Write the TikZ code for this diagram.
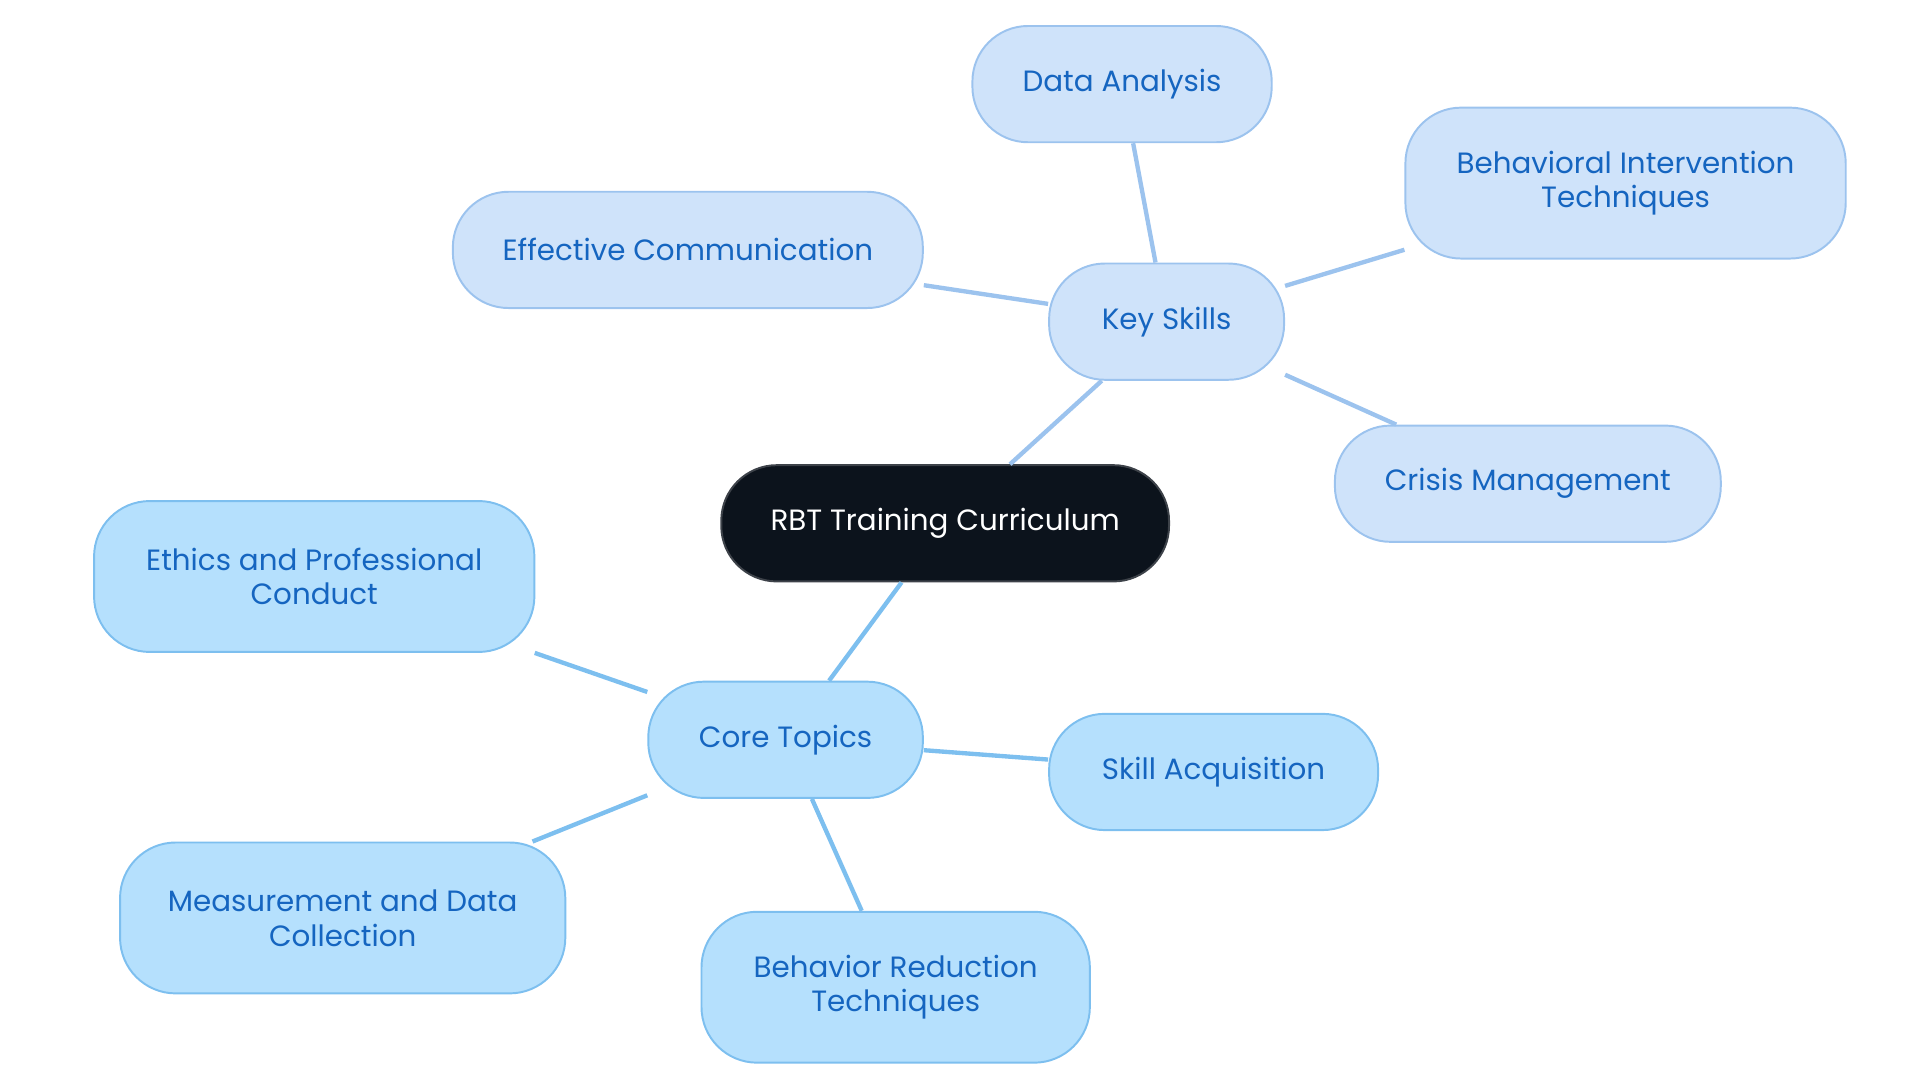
\documentclass[tikz,border=0pt]{standalone}
\usepackage{fontspec}
\setmainfont{Poppins}
\definecolor{rootfill}{HTML}{0C131C}
\definecolor{keyfill}{HTML}{CFE3FA}
\definecolor{keyline}{HTML}{9CC3EE}
\definecolor{corefill}{HTML}{B5E0FD}
\definecolor{coreline}{HTML}{7DBFEF}
\definecolor{labeltext}{HTML}{1565C0}
\tikzset{
  mapnode/.style = {align=center, rounded corners=0.9cm, inner sep=0pt, font=\fontsize{13.5}{16}\selectfont, text=labeltext, line width=0.9pt},
  rootnode/.style = {mapnode, fill=rootfill, draw=rootfill!80!white, text=white},
  keynode/.style = {mapnode, fill=keyfill, draw=keyline},
  corenode/.style = {mapnode, fill=corefill, draw=coreline},
  keylink/.style = {draw=keyline, line width=2pt},
  corelink/.style = {draw=coreline, line width=2pt},
}
\begin{document}
\begin{tikzpicture}[x=0.02cm, y=-0.02cm]
\useasboundingbox (0,0) rectangle (1552,875);
\node [rootnode, minimum width=7.24cm, minimum height=1.88cm] (root) at (764,423) {RBT Training Curriculum};
% key skills branch
\node [keynode, minimum width=3.8cm, minimum height=1.88cm] (skills) at (943,260) {Key Skills};
\node [keynode, minimum width=4.84cm, minimum height=1.88cm] (data) at (907,68) {Data Analysis};
\node [keynode, minimum width=7.12cm, minimum height=2.44cm] (interv) at (1314,148) {Behavioral Intervention\\Techniques};
\node [keynode, minimum width=7.6cm, minimum height=1.88cm] (comm) at (556,202) {Effective Communication};
\node [keynode, minimum width=6.24cm, minimum height=1.88cm] (crisis) at (1235,391) {Crisis Management};
% core topics branch
\node [corenode, minimum width=4.44cm, minimum height=1.88cm] (core) at (635,598) {Core Topics};
\node [corenode, minimum width=7.12cm, minimum height=2.44cm] (ethics) at (254,466) {Ethics and Professional\\Conduct};
\node [corenode, minimum width=5.32cm, minimum height=1.88cm] (acq) at (981,624) {Skill Acquisition};
\node [corenode, minimum width=7.2cm, minimum height=2.44cm] (measure) at (277,742) {Measurement and Data\\Collection};
\node [corenode, minimum width=6.28cm, minimum height=2.44cm] (reduce) at (724,798) {Behavior Reduction\\Techniques};
\begin{scope}[on background layer/.style={}]
\end{scope}
\draw [keylink] (root) -- (skills);
\draw [keylink] (skills) -- (data);
\draw [keylink] (skills) -- (interv);
\draw [keylink] (skills) -- (comm);
\draw [keylink] (skills) -- (crisis);
\draw [corelink] (root) -- (core);
\draw [corelink] (core) -- (ethics);
\draw [corelink] (core) -- (acq);
\draw [corelink] (core) -- (measure);
\draw [corelink] (core) -- (reduce);
\end{tikzpicture}
\end{document}
